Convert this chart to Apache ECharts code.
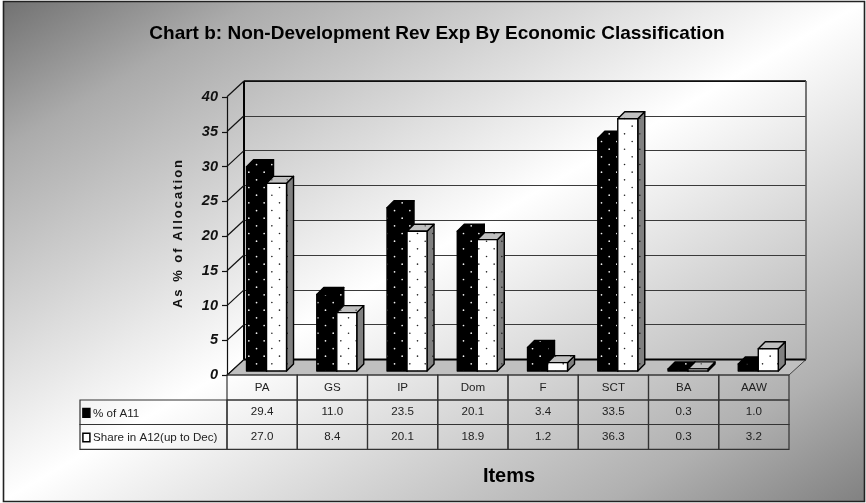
<!DOCTYPE html>
<html><head><meta charset="utf-8">
<style>html,body{margin:0;padding:0;background:#fff}#c{width:866px;height:503px}</style>
<script src="https://cdn.jsdelivr.net/npm/echarts@6/dist/echarts.min.js"></script>
</head><body><div id="c"></div>
<script>
const categories = ['PA','GS','IP','Dom','F','SCT','BA','AAW'];
const seriesAName = '% of A11';
const seriesBName = 'Share in A12(up to Dec)';
const seriesA = [29.4,11.0,23.5,20.1,3.4,33.5,0.3,1.0];
const seriesB = [27.0,8.4,20.1,18.9,1.2,36.3,0.3,3.2];
const tickValues = [0,5,10,15,20,25,30,35,40];
const titleText = 'Chart b: Non-Development Rev Exp By Economic Classification';
const yName = 'As % of Allocation';
const xName = 'Items';

const FONT = '"Liberation Sans", Arial, sans-serif';
// the reference spaces out the letters of the y-axis name
const origFill = CanvasRenderingContext2D.prototype.fillText;
CanvasRenderingContext2D.prototype.fillText = function (t, x, y, m) {
  if (t === yName) {
    const f = this.font;
    this.save(); this.letterSpacing = '2px'; this.font = f; origFill.call(this, t, x, y); this.restore();
    this.letterSpacing = '0px'; this.font = f;
    return;
  }
  this.letterSpacing = '0px';
  return m === undefined ? origFill.call(this, t, x, y) : origFill.call(this, t, x, y, m);
};
function dots(bg, fg, r) {
  const c = document.createElement('canvas'); c.width = 46; c.height = 46;
  const g = c.getContext('2d'); g.fillStyle = bg; g.fillRect(0, 0, 46, 46); g.fillStyle = fg;
  for (let i = 0; i < 3; i++) for (let j = 0; j < 3; j++) for (const [a, b] of [[3.5, 3.5], [11.2, 11.2]]) {
    g.beginPath(); g.arc(a + i * 15.33, b + j * 15.33, r, 0, 7); g.fill();
  }
  return { image: c, repeat: 'repeat' };
}
const patBlack = dots('#000', '#f4f4f4', 0.85);
const patWhite = dots('#fff', '#222', 0.8);
const patSide = dots('#808080', '#111', 0.7);
const patTop = dots('#c0c0c0', '#222', 0.7);

const DEPTH = 7, BARW = 20, SHIFT = 4.4, LIFT = 4;
function barItem(which, fills) {
  return function (params, api) {
    const c = api.coord([api.value(0), api.value(1)]);
    const base = api.coord([api.value(0), 0]);
    const x = c[0] + SHIFT + (which === 0 ? -BARW : 0);
    const yt = c[1] - LIFT, yb = base[1] - LIFT, w = BARW, d = DEPTH;
    const st = f => ({ fill: f, stroke: '#000', lineWidth: 1.4, lineJoin: 'round' });
    return { type: 'group', children: [
      { type: 'polygon', shape: { points: [[x + w, yt], [x + w + d, yt - d], [x + w + d, yb - d], [x + w, yb]] }, style: st(fills.side) },
      { type: 'polygon', shape: { points: [[x, yt], [x + d, yt - d], [x + w + d, yt - d], [x + w, yt]] }, style: st(fills.top) },
      { type: 'rect', shape: { x: x, y: yt, width: w, height: yb - yt }, style: st(fills.front) }
    ] };
  };
}
const LINE = { stroke: '#333', lineWidth: 1.2 };
const ROWS = [375, 400, 424.5, 449.3];
const CELL_FONT = '11.6px ' + FONT;
const tableData = categories.map((c, i) => [i, c, seriesA[i], seriesB[i]]);

const option = {
  animation: false,
  textStyle: { fontFamily: FONT },
  title: [
    { text: titleText, left: 432, top: 19, textAlign: 'center', textStyle: { fontFamily: FONT, fontSize: 19, fontWeight: 'bold', color: '#000' } },
    { text: xName, left: 504, top: 461, textAlign: 'center', textStyle: { fontFamily: FONT, fontSize: 20, fontWeight: 'bold', color: '#000' } }
  ],
  graphic: [{
    type: 'rect', z: -10, silent: true, shape: { x: 3.5, y: 1.5, width: 861, height: 500 },
    style: { stroke: '#222', lineWidth: 1.6, fill: { type: 'linear', global: true, x: 215, y: -125, x2: 651, y2: 628,
      colorStops: [{ offset: 0, color: '#707070' }, { offset: 0.15, color: '#ababab' }, { offset: 0.5, color: '#ffffff' }, { offset: 0.85, color: '#b0b0b0' }, { offset: 1, color: '#808080' }] } }
  }],
  grid: [
    { left: 227, top: 97, width: 562, height: 278 },   // front plane
    { left: 244, top: 81, width: 562, height: 278.5 }  // back wall
  ],
  xAxis: [
    { gridIndex: 0, type: 'category', data: categories, show: false },
    { gridIndex: 1, type: 'category', data: categories, show: false }
  ],
  yAxis: [
    { gridIndex: 0, type: 'value', min: 0, max: 40, interval: 5, splitLine: { show: false },
      name: yName, nameLocation: 'middle', nameGap: 42, nameRotate: 90,
      nameTextStyle: { fontFamily: FONT, fontSize: 13, fontWeight: 'bold', color: '#111', padding: [0, 0, 0, 6] },
      axisLine: { show: true, lineStyle: { color: '#111', width: 1.2 } },
      axisTick: { show: true, length: 5, lineStyle: { color: '#111', width: 1.2 } },
      axisLabel: { fontFamily: FONT, fontSize: 14.5, fontWeight: 'bold', fontStyle: 'italic', color: '#111', margin: 9 } },
    { gridIndex: 1, type: 'value', min: 0, max: 40, interval: 5,
      axisLine: { show: false }, axisTick: { show: false }, axisLabel: { show: false },
      splitLine: { show: true, lineStyle: { color: '#3a3a3a', width: 1.2 } } }
  ],
  series: [
    { // floor and wall edges
      type: 'custom', xAxisIndex: 1, yAxisIndex: 1, z: 1, silent: true, data: [[0, 0]],
      renderItem(params) {
        const s = params.coordSys, L = s.x, R = s.x + s.width, T = s.y, B = s.y + s.height;
        const fx = -17, fy = 15.5;
        return { type: 'group', children: [
          { type: 'polygon', shape: { points: [[L, B], [R, B], [R + fx, B + fy], [L + fx, B + fy]] }, style: { fill: '#c0c0c0', stroke: '#444', lineWidth: 1 } },
          { type: 'line', shape: { x1: L, y1: B, x2: R, y2: B }, style: { stroke: '#000', lineWidth: 2 } },
          { type: 'line', shape: { x1: L, y1: T, x2: L, y2: B }, style: { stroke: '#000', lineWidth: 2 } },
          { type: 'line', shape: { x1: L, y1: T, x2: R, y2: T }, style: { stroke: '#000', lineWidth: 1.5 } },
          { type: 'line', shape: { x1: R, y1: T, x2: R, y2: B }, style: { stroke: '#555', lineWidth: 1.6 } }
        ] };
      }
    },
    { // oblique lines on the left wall
      type: 'custom', xAxisIndex: 1, yAxisIndex: 1, z: 1, silent: true,
      data: tickValues.map(v => [0, v]),
      renderItem(params, api) {
        const s = params.coordSys, p = api.coord([0, api.value(1)]);
        return { type: 'line', shape: { x1: s.x, y1: p[1], x2: s.x - 17, y2: p[1] + 15.7 }, style: { stroke: '#111', lineWidth: 1.2 } };
      }
    },
    { name: seriesAName, type: 'custom', xAxisIndex: 0, yAxisIndex: 0, z: 3,
      data: seriesA.map((v, i) => [i, v]), renderItem: barItem(0, { front: patBlack, top: patBlack, side: patBlack }) },
    { name: seriesBName, type: 'custom', xAxisIndex: 0, yAxisIndex: 0, z: 4,
      data: seriesB.map((v, i) => [i, v]), renderItem: barItem(1, { front: patWhite, top: patTop, side: patSide }) },
    { // data table columns
      type: 'custom', xAxisIndex: 0, yAxisIndex: 0, z: 5, silent: true, data: tableData,
      renderItem(params, api) {
        const cx = api.coord([api.value(0), 0])[0], w = api.size([1, 0])[0], x = cx - w / 2;
        const vals = [categories[api.value(0)], seriesA[api.value(0)].toFixed(1), seriesB[api.value(0)].toFixed(1)];
        const kids = [];
        vals.forEach((t, r) => {
          kids.push({ type: 'rect', shape: { x, y: ROWS[r], width: w, height: ROWS[r + 1] - ROWS[r] }, style: { fill: 'none', ...LINE } });
          kids.push({ type: 'text', x: cx, y: (ROWS[r] + ROWS[r + 1]) / 2, style: { text: t, font: CELL_FONT, fill: '#222', align: 'center', verticalAlign: 'middle' } });
        });
        return { type: 'group', children: kids };
      }
    },
    { // data table row headers with legend keys
      type: 'custom', xAxisIndex: 0, yAxisIndex: 0, z: 5, silent: true,
      data: [[0, 0], [0, 1]],
      renderItem(params, api) {
        const r = api.value(1), s = params.coordSys, X = 80;
        const y0 = ROWS[r + 1], y1 = ROWS[r + 2], mid = (y0 + y1) / 2;
        const name = r === 0 ? seriesAName : seriesBName;
        return { type: 'group', children: [
          { type: 'rect', shape: { x: X, y: y0, width: s.x - X, height: y1 - y0 }, style: { fill: 'none', ...LINE } },
          { type: 'rect', shape: { x: X + 2.9, y: mid - 3.7, width: 7, height: 8.6 }, style: { fill: r === 0 ? '#000' : '#fff', stroke: '#000', lineWidth: 1.5 } },
          { type: 'text', x: X + 13, y: mid + 1.2, style: { text: name, font: CELL_FONT, fill: '#222', align: 'left', verticalAlign: 'middle' } }
        ] };
      }
    }
  ]
};
const chart = echarts.init(document.getElementById('c'), null, { renderer: 'canvas' });
chart.setOption(option);
</script></body></html>
